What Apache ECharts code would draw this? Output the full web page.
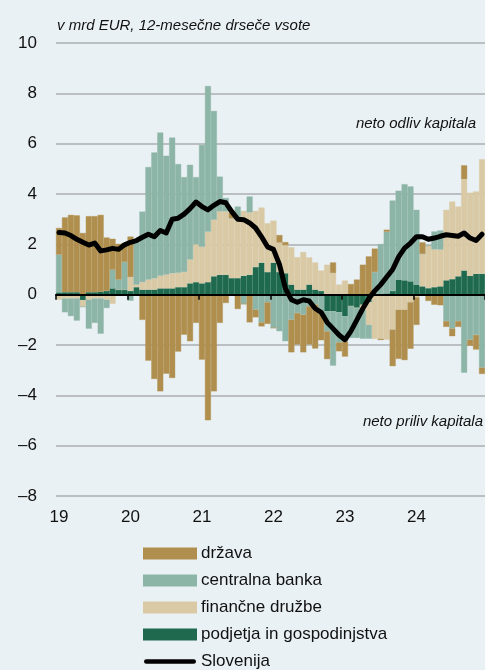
<!DOCTYPE html>
<html>
<head>
<meta charset="utf-8">
<script src="https://cdn.jsdelivr.net/npm/echarts@6/dist/echarts.min.js"></script>
<style>
html,body{margin:0;padding:0;background:#eaf1f5;}
#c{width:485px;height:670px;}
</style>
</head>
<body>
<div id="c"></div>
<script>
// Tick labels (years) shown at each January
const yearLabels = ['19', '20', '21', '22', '23', '24'];
const years = [2019, 2020, 2021, 2022, 2023, 2024];
const months = [];
years.forEach(y => { for (let m = 1; m <= 12; m++) months.push(y + '-' + (m < 10 ? '0' + m : m)); });

// podjetja in gospodinjstva (firms and households)
const podjetja = [
  0.09, 0.1, 0.1, 0.1, -0.22, 0.1, 0.1, 0.12, 0.15, 0.25, 0.2, 0.2,
  0.15, 0.3, 0.2, 0.2, 0.2, 0.25, 0.25, 0.25, 0.3, 0.3, 0.45, 0.5,
  0.45, 0.5, 0.73, 0.79, 0.79, 0.66, 0.66, 0.75, 0.79, 1.1, 1.27, 0.9,
  1.27, 0.9, 0.85, 0.4, 0.2, 0.2, 0.4, 0.2, 0.15, -0.66, -0.66, -0.7,
  -0.86, -0.46, -0.53, -0.4, -0.3, 0, 0, 0.05, 0.15, 0.6, 0.57, 0.53,
  0.4, 0.33, 0.26, 0.3, 0.33, 0.57, 0.62, 0.73, 0.96, 0.75, 0.83, 0.83
];
// finančne družbe (financial corporations)
const financne = [
  -0.2, -0.15, -0.15, -0.15, -0.26, -0.2, -0.15, -0.15, -0.2, -0.36, 0, 0,
  0.55, 0.1, 0.3, 0.4, 0.45, 0.5, 0.55, 0.6, 0.57, 0.6, 0.95, 1.5,
  1.45, 2.0, 2.25, 2.52, 2.52, 2.38, 2.32, 2.58, 2.48, 2.23, 2.19, 1.94,
  1.67, 1.17, 1.12, 1.48, 1.29, 1.49, 1.08, 1.08, 0.81, 1.19, 0.86, 0.4,
  0.56, 0, 0, -0.2, -0.9, -1.76, -1.75, -1.79, -1.39, -0.6, -0.6, -0.3,
  -0.1, 1.3, 1.69, 1.5, 1.46, 2.8, 3.08, 2.77, 3.63, 3.3, 3.27, 4.55
];
// centralna banka (central bank)
const centralna = [
  1.5, -0.55, -0.7, -0.88, 0, -1.15, -0.97, -1.4, -0.33, 0.74, 0.4, 1.1,
  -0.24, 1.75, 2.8, 4.47, 5.0, 5.69, 4.72, 5.39, 4.32, 3.77, 3.76, 2.67,
  4.05, 5.79, 4.32, 1.38, 0.53, 0, 0.52, -0.37, 0.63, -0.6, -1.1, -0.3,
  -1.32, -1.45, -1.85, -1.0, -0.73, -0.8, -0.46, -0.4, -0.73, -0.8, -2.16, -1.2,
  -1.0, -1.26, -1.19, -1.15, -0.55, 0.9, 2.01, 2.45, 3.59, 3.53, 3.82, 3.77,
  2.97, 0, 0, 0.71, 0.76, -1.05, -1.35, -1.05, -3.1, -1.79, -1.6, -2.9
];
// država (government)
const drzava = [
  1.06, 2.97, 3.07, 3.05, 2.45, 3.02, 3.02, 3.05, 2.12, 1.23, 1.42, 0.75,
  1.61, 0, -1.0, -2.62, -3.35, -3.84, -3.14, -3.31, -2.26, -1.59, -1.85, -1.12,
  -2.58, -4.99, -3.84, -1.12, -0.33, 0.22, -0.57, 0, -1.1, -0.3, -0.16, -0.86,
  0, 0.3, 0.12, -1.29, -1.25, -1.49, -1.52, -1.74, -1.08, -1.1, 0.42, -0.35,
  -0.6, 0.42, 0.6, 1.19, 1.52, 0.93, -0.05, 0.08, -1.45, -1.95, -2.0, -1.85,
  -1.1, 0.45, -0.25, -0.4, -0.42, -0.23, -0.3, -0.23, 0.55, -0.24, -0.58, -0.25
];
// Slovenija (total)
const slovenija = [
  2.47, 2.45, 2.35, 2.2, 2.08, 1.97, 2.05, 1.74, 1.78, 1.84, 1.80, 1.98,
  2.08, 2.15, 2.28, 2.4, 2.3, 2.55, 2.45, 3.0, 3.04, 3.2, 3.42, 3.68,
  3.5, 3.37, 3.55, 3.7, 3.65, 3.3, 3.0, 2.98, 2.85, 2.65, 2.3, 1.9,
  1.8, 1.2, 0.25, -0.2, -0.3, -0.2, -0.25, -0.55, -0.7, -1.1, -1.35, -1.6,
  -1.79, -1.45, -1.0, -0.55, -0.15, 0.15, 0.4, 0.7, 1.0, 1.5, 1.85, 2.05,
  2.3, 2.3, 2.2, 2.25, 2.32, 2.38, 2.35, 2.32, 2.45, 2.25, 2.15, 2.4
];

const names = {
  drzava: 'država',
  centralna: 'centralna banka',
  financne: 'finančne družbe',
  podjetja: 'podjetja in gospodinjstva',
  slo: 'Slovenija'
};
const colors = {
  drzava: '#b08f4e',
  centralna: '#8db5a7',
  financne: '#dac9a5',
  podjetja: '#1f6a4f',
  slo: '#000000'
};

const FONT = "'Liberation Sans', Arial, sans-serif";
const chart = echarts.init(document.getElementById('c'), null, {renderer: 'canvas'});

function barSeries(name, data, color) {
  return {
    name: name, type: 'bar', stack: 'total', data: data,
    barCategoryGap: '0%', barGap: '0%',
    itemStyle: {color: color, borderColor: color, borderWidth: 0.4},
    emphasis: {disabled: true},
    animation: false, z: 2
  };
}

const lineIcon = 'path://M0,0 M52,10 M2,2.6 L50,2.6 A2.4,2.4 0 0 1 50,7.4 L2,7.4 A2.4,2.4 0 0 1 2,2.6 Z';

chart.setOption({
  backgroundColor: '#eaf1f5',
  animation: false,
  grid: {left: 56, top: 43, width: 432, height: 453, containLabel: false},
  legend: {
    orient: 'vertical', left: 143, top: 545, height: 160, padding: 0,
    itemWidth: 52, itemHeight: 10, itemGap: 10,
    textStyle: {fontFamily: FONT, fontSize: 17, color: '#111'},
    data: [
      {name: names.drzava, icon: 'rect'},
      {name: names.centralna, icon: 'rect'},
      {name: names.financne, icon: 'rect'},
      {name: names.podjetja, icon: 'rect'},
      {name: names.slo, icon: lineIcon, itemStyle: {color: '#000', borderWidth: 0}}
    ],
    selectedMode: false
  },
  xAxis: [
    {
      type: 'category', data: months, position: 'bottom', boundaryGap: true,
      axisLine: {show: false, onZero: false},
      axisTick: {show: false},
      splitLine: {show: false},
      axisLabel: {
        interval: (i) => i % 12 === 0,
        formatter: (v, i) => (i % 12 === 0 ? yearLabels[i / 12] : ''),
        fontFamily: FONT, fontSize: 17, color: '#111', margin: 13
      }
    },
    {
      type: 'category', data: months, position: 'bottom', boundaryGap: true,
      axisLine: {show: true, onZero: true, lineStyle: {color: '#000', width: 2}},
      axisTick: {show: true, interval: (i) => i % 12 === 0, length: 5, lineStyle: {color: '#000', width: 1.5}},
      axisLabel: {show: false},
      splitLine: {show: false},
      z: 10
    }
  ],
  yAxis: {
    type: 'value', min: -8, max: 10, interval: 2,
    axisLine: {show: false}, axisTick: {show: false},
    splitLine: {lineStyle: {color: '#bcbfc2', width: 2}},
    axisLabel: {
      fontFamily: FONT, fontSize: 17, color: '#111', margin: 19,
      formatter: (v) => (v < 0 ? '\u2013' + Math.abs(v) : String(v))
    }
  },
  graphic: [
    {type: 'text', left: 57, top: 18, style: {text: 'v mrd EUR, 12-mesečne drseče vsote', font: 'italic 15px ' + FONT, fill: '#111'}},
    {type: 'text', right: 9, top: 116, style: {text: 'neto odliv kapitala', font: 'italic 15px ' + FONT, fill: '#111'}},
    {type: 'text', right: 2, top: 414, style: {text: 'neto priliv kapitala', font: 'italic 15px ' + FONT, fill: '#111'}}
  ],
  series: [
    barSeries(names.podjetja, podjetja, colors.podjetja),
    barSeries(names.financne, financne, colors.financne),
    barSeries(names.centralna, centralna, colors.centralna),
    barSeries(names.drzava, drzava, colors.drzava),
    {
      name: names.slo, type: 'line', data: slovenija,
      symbol: 'none', smooth: false,
      lineStyle: {color: '#000', width: 5, join: 'round', cap: 'round'},
      itemStyle: {color: '#000'},
      emphasis: {disabled: true},
      z: 20, animation: false
    }
  ]
});
</script>
</body>
</html>
